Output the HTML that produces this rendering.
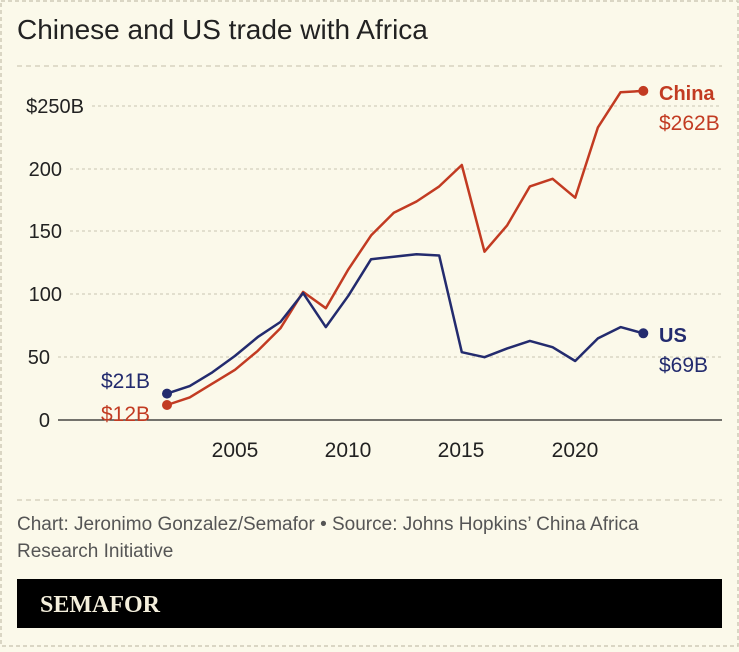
<!DOCTYPE html>
<html><head><meta charset="utf-8"><style>
html,body{margin:0;padding:0;background:#fbf9ea;}
body{width:739px;height:647px;overflow:hidden;}
</style></head><body>
<svg width="739" height="647" viewBox="0 0 739 647" xmlns="http://www.w3.org/2000/svg" font-family="Liberation Sans, sans-serif">
<rect x="1" y="1" width="737" height="645" fill="#fbf9ea" stroke="#cfcbb8" stroke-width="1.5" stroke-dasharray="4,3"/>
<text x="17" y="39" font-size="28" fill="#222">Chinese and US trade with Africa</text>
<line x1="17" y1="66" x2="722" y2="66" stroke="#cfcbb8" stroke-dasharray="5,4" stroke-width="1.2"/>
<g stroke="#c9c5b3" stroke-dasharray="3,3" stroke-width="1">
<line x1="92" y1="106" x2="722" y2="106"/>
<line x1="70" y1="169" x2="722" y2="169"/>
<line x1="70" y1="231" x2="722" y2="231"/>
<line x1="70" y1="294" x2="722" y2="294"/>
<line x1="58" y1="357" x2="722" y2="357"/>
</g>
<line x1="58" y1="420" x2="722" y2="420" stroke="#222" stroke-width="1.3"/>
<g font-size="20" fill="#222" text-anchor="end">
<text x="84" y="113">$250B</text>
<text x="62" y="176">200</text>
<text x="62" y="238">150</text>
<text x="62" y="301">100</text>
<text x="50" y="364">50</text>
<text x="50" y="427">0</text>
</g>
<g font-size="21" fill="#222" text-anchor="middle">
<text x="235" y="457">2005</text><text x="348" y="457">2010</text><text x="461" y="457">2015</text><text x="575" y="457">2020</text>
</g>
<polyline fill="none" stroke="#c23b22" stroke-width="2.5" stroke-linejoin="round" points="167,405 189.7,397.4 212.4,383.6 235,369.8 257.7,350.9 280.4,328.3 303.1,291.9 325.8,308.2 348.4,269.3 371.1,235.4 393.8,212.8 416.5,201.5 439.2,186.4 461.8,165 484.5,251.7 507.2,225.3 529.9,186.4 552.6,178.8 575.2,197.7 597.9,127.4 620.6,92.2 643.3,90.9"/>
<polyline fill="none" stroke="#232b6e" stroke-width="2.5" stroke-linejoin="round" points="167,393.6 189.7,386.1 212.4,372.3 235,355.9 257.7,337.1 280.4,322 303.1,293.1 325.8,327.1 348.4,295.7 371.1,259.2 393.8,256.7 416.5,254.2 439.2,255.5 461.8,352.2 484.5,357.2 507.2,348.4 529.9,340.9 552.6,347.2 575.2,361 597.9,338.4 620.6,327.1 643.3,333.3"/>
<circle cx="167" cy="405" r="5" fill="#c23b22"/><circle cx="643.3" cy="90.9" r="5" fill="#c23b22"/>
<circle cx="167" cy="393.6" r="5" fill="#232b6e"/><circle cx="643.3" cy="333.3" r="5" fill="#232b6e"/>
<text x="659" y="100" font-size="20" font-weight="bold" fill="#c23b22">China</text>
<text x="659" y="130" font-size="21" fill="#c23b22">$262B</text>
<text x="659" y="342" font-size="20" font-weight="bold" fill="#232b6e">US</text>
<text x="659" y="372" font-size="21" fill="#232b6e">$69B</text>
<text x="101" y="388" font-size="21" fill="#232b6e">$21B</text>
<text x="101" y="421" font-size="21" fill="#c23b22">$12B</text>
<line x1="17" y1="500" x2="722" y2="500" stroke="#cfcbb8" stroke-dasharray="5,4" stroke-width="1.2"/>
<text x="17" y="530" font-size="19" fill="#555">Chart: Jeronimo Gonzalez/Semafor • Source: Johns Hopkins’ China Africa</text>
<text x="17" y="557" font-size="19" fill="#555">Research Initiative</text>
<rect x="17" y="579" width="705" height="49" fill="#000"/>
<text x="40" y="612" font-size="24" font-weight="bold" fill="#f4efdc" font-family="Liberation Serif, serif">SEMAFOR</text>
</svg>
</body></html>
